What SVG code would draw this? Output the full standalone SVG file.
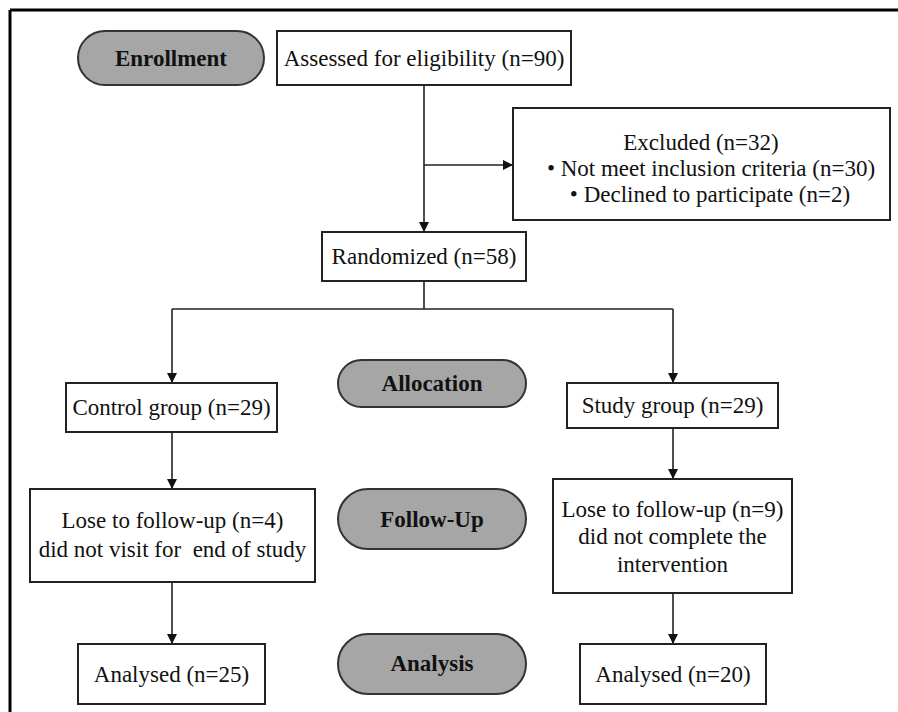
<svg xmlns="http://www.w3.org/2000/svg" width="898" height="712" viewBox="0 0 898 712">
<style>
text{font-family:'Liberation Serif',Tinos,'Times New Roman','DejaVu Serif',serif;font-size:23px;fill:#111;text-anchor:middle}
.b{font-weight:bold}
.box{fill:#fff;stroke:#222;stroke-width:2}
.pill{fill:#a6a6a6;stroke:#333;stroke-width:2}
.ln{fill:none;stroke:#222;stroke-width:1.6}
</style>
<defs>
<marker id="ah" viewBox="0 0 10 10" refX="10" refY="5" markerWidth="10" markerHeight="10" markerUnits="userSpaceOnUse" orient="auto">
<path d="M0,0 L10,5 L0,10 Z" fill="#111"/>
</marker>
</defs>
<rect width="898" height="712" fill="#fff"/>
<g id="frame">
<line x1="10" y1="10" x2="898" y2="10" stroke="#000" stroke-width="3"/>
<line x1="10" y1="10" x2="10" y2="712" stroke="#000" stroke-width="3"/>
</g>
<g id="connectors">
<line class="ln" x1="424" y1="85" x2="424" y2="232" marker-end="url(#ah)"/>
<line class="ln" x1="424" y1="165" x2="513" y2="165" marker-end="url(#ah)"/>
<polyline class="ln" points="424,281 424,309"/>
<line class="ln" x1="172" y1="309" x2="673" y2="309"/>
<line class="ln" x1="172" y1="309" x2="172" y2="383" marker-end="url(#ah)"/>
<line class="ln" x1="673" y1="309" x2="673" y2="383" marker-end="url(#ah)"/>
<line class="ln" x1="172" y1="432" x2="172" y2="489" marker-end="url(#ah)"/>
<line class="ln" x1="673" y1="428" x2="673" y2="479" marker-end="url(#ah)"/>
<line class="ln" x1="172" y1="582" x2="172" y2="644" marker-end="url(#ah)"/>
<line class="ln" x1="673" y1="593" x2="673" y2="644" marker-end="url(#ah)"/>
</g>
<g id="enrollment">
<rect class="pill" x="78" y="31" width="186" height="54" rx="27"/>
<text class="b" x="171" y="66">Enrollment</text>
</g>
<g id="assessed">
<rect class="box" x="277" y="31" width="294" height="54"/>
<text x="424" y="66">Assessed for eligibility (n=90)</text>
</g>
<g id="excluded">
<rect class="box" x="513" y="108" width="377" height="112"/>
<text x="701" y="150">Excluded (n=32)</text>
<text x="711" y="176">• Not meet inclusion criteria (n=30)</text>
<text x="710" y="202">• Declined to participate (n=2)</text>
</g>
<g id="randomized">
<rect class="box" x="322" y="232" width="204" height="49"/>
<text x="424" y="264">Randomized (n=58)</text>
</g>
<g id="allocation">
<rect class="pill" x="338" y="360" width="188" height="47" rx="23.5"/>
<text class="b" x="432" y="391">Allocation</text>
</g>
<g id="control">
<rect class="box" x="66" y="383" width="211" height="49"/>
<text x="171.5" y="415">Control group (n=29)</text>
</g>
<g id="study">
<rect class="box" x="567" y="383" width="211" height="45"/>
<text x="672.5" y="413">Study group (n=29)</text>
</g>
<g id="lose-control">
<rect class="box" x="30" y="489" width="285" height="93"/>
<text x="172.5" y="528">Lose to follow-up (n=4)</text>
<text x="172.5" y="557" xml:space="preserve">did not visit for  end of study</text>
</g>
<g id="followup">
<rect class="pill" x="338" y="489" width="188" height="60" rx="30"/>
<text class="b" x="432" y="527">Follow-Up</text>
</g>
<g id="lose-study">
<rect class="box" x="553" y="479" width="239" height="114"/>
<text x="672.5" y="517">Lose to follow-up (n=9)</text>
<text x="672.5" y="544">did not complete the</text>
<text x="672.5" y="572">intervention</text>
</g>
<g id="analysed-control">
<rect class="box" x="78" y="644" width="187" height="60"/>
<text x="171.5" y="682">Analysed (n=25)</text>
</g>
<g id="analysis">
<rect class="pill" x="338" y="634" width="188" height="60" rx="30"/>
<text class="b" x="432" y="671">Analysis</text>
</g>
<g id="analysed-study">
<rect class="box" x="580" y="644" width="186" height="60"/>
<text x="673" y="682">Analysed (n=20)</text>
</g>
</svg>
